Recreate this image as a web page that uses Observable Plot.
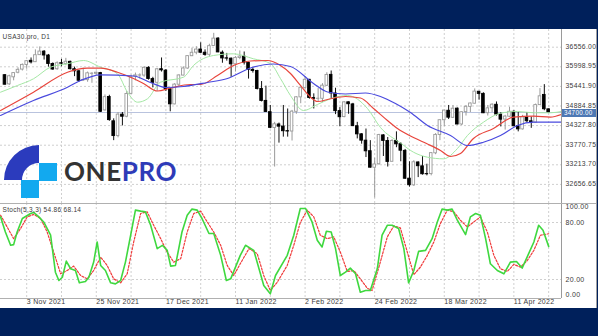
<!DOCTYPE html>
<html><head><meta charset="utf-8">
<script src="https://cdn.jsdelivr.net/npm/d3@7"></script>
<script src="https://cdn.jsdelivr.net/npm/@observablehq/plot@0.6"></script>
<style>
html,body{margin:0;padding:0;background:#00205b;width:598px;height:336px;overflow:hidden;font-family:"Liberation Sans",Arial,sans-serif;}
#panel{position:absolute;left:0;top:29px;width:597px;height:279px;background:#fff;}
#price,#stoch{position:absolute;left:0;}
#price{top:0;} #stoch{top:174px;}
#sep{position:absolute;left:0;top:174px;width:597px;height:1px;background:#b0b0b0;}
#redge{position:absolute;left:596px;top:0;width:1px;height:279px;background:#a0a0a0;}
#panel svg text{letter-spacing:0.3px;}
#tag{position:absolute;left:562px;width:34px;height:8px;background:#4d78b4;color:#fff;font:6.3px "Liberation Sans",Arial,sans-serif;letter-spacing:0.3px;line-height:8px;padding-left:2px;box-sizing:border-box;white-space:nowrap;}
#logo{position:absolute;left:0;top:140px;}
</style></head>
<body>
<div id="panel"><div id="price"></div><div id="stoch"></div><div id="sep"></div><div id="redge"></div><div id="tag"></div></div>
<svg id="logo" width="200" height="60" xmlns="http://www.w3.org/2000/svg">
  <path d="M39,5 A35,35 0 0 0 4,40 L22,40 A17,17 0 0 1 39,23 Z" fill="#2b3bbd"/>
  <rect x="39" y="23" width="18" height="18" fill="#12a9ef"/>
  <rect x="21" y="40" width="18" height="18" fill="#12a9ef"/>
  <text x="64" y="41" font-family="Lato, 'Open Sans', sans-serif" font-weight="700" font-size="26" letter-spacing="0.6"><tspan fill="#333333">ONE</tspan><tspan fill="#2e3bb8">PRO</tspan></text>
</svg>
<script>
const symbolLabel = "USA30.pro, D1";
const stochLabel = "Stoch(5,3,3) 54.86 68.14";
const dates = [
"2021-10-27","2021-10-28","2021-10-29","2021-11-01","2021-11-02","2021-11-03","2021-11-04","2021-11-05","2021-11-08","2021-11-09",
"2021-11-10","2021-11-11","2021-11-12","2021-11-15","2021-11-16","2021-11-17","2021-11-18","2021-11-19","2021-11-22","2021-11-23",
"2021-11-24","2021-11-25","2021-11-26","2021-11-29","2021-11-30","2021-12-01","2021-12-02","2021-12-03","2021-12-06","2021-12-07",
"2021-12-08","2021-12-09","2021-12-10","2021-12-13","2021-12-14","2021-12-15","2021-12-16","2021-12-17","2021-12-20","2021-12-21",
"2021-12-22","2021-12-23","2021-12-27","2021-12-28","2021-12-29","2021-12-30","2021-12-31","2022-01-03","2022-01-04","2022-01-05",
"2022-01-06","2022-01-07","2022-01-10","2022-01-11","2022-01-12","2022-01-13","2022-01-14","2022-01-17","2022-01-18","2022-01-19",
"2022-01-20","2022-01-21","2022-01-24","2022-01-25","2022-01-26","2022-01-27","2022-01-28","2022-01-31","2022-02-01","2022-02-02",
"2022-02-03","2022-02-04","2022-02-07","2022-02-08","2022-02-09","2022-02-10","2022-02-11","2022-02-14","2022-02-15","2022-02-16",
"2022-02-17","2022-02-18","2022-02-21","2022-02-22","2022-02-23","2022-02-24","2022-02-25","2022-02-28","2022-03-01","2022-03-02",
"2022-03-03","2022-03-04","2022-03-07","2022-03-08","2022-03-09","2022-03-10","2022-03-11","2022-03-14","2022-03-15","2022-03-16",
"2022-03-17","2022-03-18","2022-03-21","2022-03-22","2022-03-23","2022-03-24","2022-03-25","2022-03-28","2022-03-29","2022-03-30",
"2022-03-31","2022-04-01","2022-04-04","2022-04-05","2022-04-06","2022-04-07","2022-04-08","2022-04-11","2022-04-12","2022-04-13",
"2022-04-14","2022-04-18","2022-04-19","2022-04-20","2022-04-21","2022-04-22"];
const open = [35760,35500,35700,35830,35920,36050,36170,36130,36330,36430,
36320,36080,35930,36100,36080,36140,35930,35870,35610,35620,
35800,35800,35820,34760,35140,34450,34030,34640,34580,35230,
35720,35750,35750,35970,35650,35545,35930,35890,35360,34930,
35490,35750,35950,36300,36400,36490,36400,36340,36590,36800,
36400,36240,36230,36070,36250,36290,36110,35910,35880,35370,
35030,34710,34260,34360,34300,34170,34160,34720,35130,35400,
35630,35110,35090,35090,35460,35770,35240,34740,34570,34990,
34930,34310,34080,33900,33600,33130,33230,34050,33890,33300,
33890,33800,33610,32820,32630,33280,33170,32950,32950,33540,
34060,34480,34750,34550,34810,34360,34710,34860,34950,35290,
35230,34680,34820,34920,34640,34500,34580,34720,34310,34220,
34560,34450,34410,34910,35200,34790];
const high = [35780,35760,35830,35970,36080,36180,36250,36480,36565,36460,
36350,36110,36140,36210,36240,36160,35990,35900,35960,35850,
35830,35850,35840,35200,35190,34520,34700,34700,35300,35760,
35820,35800,36000,36000,35700,35950,36250,35920,35380,35520,
35770,36000,36310,36530,36570,36680,36480,36640,36950,36830,
36450,36380,36250,36290,36450,36420,36130,35960,35900,35580,
35450,34900,34420,34400,34900,34800,34760,35150,35420,35720,
35640,35230,35390,35520,35830,35880,35390,34840,35010,35000,
34960,34420,34100,34230,33900,33400,34080,34070,33990,33930,
34150,33840,33650,33300,33330,33300,33450,33230,33560,34100,
34490,34760,34900,34900,34830,34720,34900,34970,35370,35300,
35260,34900,34950,35000,34700,34620,34850,34750,34700,34620,
34700,34570,34940,35380,35492,34800];
const low = [35480,35470,35600,35800,35880,35930,36080,36120,36320,36190,
35990,35900,35900,36000,36030,35910,35720,35560,35590,35560,
35530,35760,34700,34740,34450,33900,33980,34320,34550,35220,
35600,35650,35700,35620,35400,35300,35850,35300,34720,34920,
35420,35740,35930,36290,36340,36380,36300,36280,36580,36400,
36100,36160,35700,35850,36200,36050,35650,35820,35340,35000,
34700,34240,33150,33830,34000,34000,33890,34650,34950,35350,
35080,34800,35000,34980,35440,35100,34640,34300,34550,34650,
34300,33950,33800,33420,33120,32272,33200,33450,33150,33290,
33700,33300,32800,32580,32600,32850,32920,32900,32900,33500,
33900,34300,34500,34530,34350,34330,34600,34700,34940,35050,
34670,34600,34700,34600,34290,34200,34560,34300,34150,34200,
34400,34250,34400,34900,34750,34690];
const close = [35490,35730,35820,35913,36053,36158,36124,36328,36432,36320,
36079,35921,36100,36087,36143,35931,35871,35602,35620,35814,
35804,35830,34720,35136,34484,34030,34640,34580,35227,35719,
35754,35754,35971,35651,35545,35928,35898,35365,34932,35493,
35754,35951,36302,36398,36488,36398,36338,36585,36800,36408,
36236,36232,36069,36252,36290,36114,35912,35880,35369,35029,
34715,34265,34365,34298,34168,34160,34725,35132,35405,35630,
35111,35090,35092,35463,35768,35242,34738,34566,34989,34935,
34312,34079,33900,33597,33132,33224,34059,33893,33295,33891,
33795,33615,32818,32633,33286,33174,32945,32945,33545,34063,
34481,34755,34553,34808,34359,34708,34862,34956,35294,35229,
34678,34818,34922,34641,34497,34584,34721,34309,34221,34565,
34452,34412,34911,35160,34793,34700];
const lastPrice = 34700.00;
// Alligator-style moving averages (bar position, price)
const greenBar = [-1.02,2.89,6.56,10.47,14.38,18.06,21.97,25.87,28.17,30.47,32.77,35.76,41.05,43.34,47.94,52.54,57.14,61.05,63.34,65.64,68.63,71.85,74.84,78.75,83.34,86.33,90.93,93.92,97.14,100.82,104.03,106.33,110.01,113.92,117.83,121.51,125.41,127.94];
const greenPx = [35277,35468,35658,35988,36084,36178,35988,35800,35277,34993,35090,35561,35703,36036,36320,36368,36226,36093,35666,35183,34757,34928,35090,35183,34814,34274,33833,33572,33430,33384,33677,34047,34424,34680,34729,34692,34692,34729];
const redBar = [-1.02,6.56,14.38,18.98,21.97,25.87,29.55,31.85,35.07,38.06,42.66,44.95,48.86,52.54,56.45,60.36,63.34,65.64,67.94,70.24,71.85,74.84,78.29,81.74,84.74,87.94,90.24,93.92,97.14,100.13,102.43,104.72,107.71,112.31,116.91,121.51,125.41,127.94];
const redPx = [34757,35277,35845,35959,35959,35845,35666,35524,35311,35396,35496,35496,35752,36036,36164,36178,36036,35809,35468,35135,35013,35090,35155,35112,34814,34473,34245,33990,33805,33620,33450,33535,33961,34245,34567,34595,34567,34643];
const blueBar = [-1.02,6.56,14.38,17.37,21.97,29.55,33.46,36.91,41.04,46.56,51.16,56.45,61.74,65.64,70.93,74.15,78.29,82.89,86.33,89.78,93.23,97.14,102.43,106.34,110.0,113.92,117.83,121.51,127.94];
const bluePx = [34615,35041,35419,35610,35772,35738,35553,35411,35439,35553,35666,35965,36079,36007,35524,35283,35226,35254,35155,34956,34700,34331,34047,33762,33856,34047,34331,34424,34424];
// Stochastic %K and %D (bar position, value)
const kBar = [-1.0,0.1,1.3,2.0,2.8,4.0,5.9,6.6,7.8,8.9,10.5,11.6,12.4,13.2,14.1,15.1,16.2,17.1,18.5,19.3,20.4,21.2,22.0,23.1,24.3,25.4,26.6,27.7,28.9,30.0,31.2,32.3,33.5,35.0,36.2,37.3,38.1,39.2,40.7,41.9,43.0,44.2,45.3,46.9,48.0,49.6,50.9,51.9,54.1,55.3,57.2,59.5,61.0,62.2,64.9,66.4,67.9,69.1,70.6,71.8,72.9,73.9,75.0,76.0,77.1,78.3,79.4,80.6,81.7,82.9,84.0,85.6,86.7,87.9,89.0,90.5,91.7,92.8,94.0,95.1,96.7,98.2,99.4,100.5,101.7,102.8,104.0,105.9,107.0,108.2,109.3,110.5,111.6,113.2,114.7,116.2,117.6,118.9,120.4,121.6,122.7,123.7,125.0];
const kVal = [85.9,70,56,56.7,70,84.2,89.5,90.6,85.9,80.6,66.6,27.7,18.9,22.4,39.4,31.3,29.5,16.5,17.9,22.4,38.3,59.5,34.8,29.5,16.5,15.4,18.9,38.3,66.6,93,92,91.2,77.1,52.5,56,50.7,34.1,34.8,70,87.7,94.1,93,84.2,68.4,68.4,45.4,18.9,20.7,45.4,56,50.7,13.7,4.9,24.2,45.4,66.6,94.8,94.8,80.6,61.3,54.2,70.8,70,52.5,24.2,27.7,32,26,6.6,8.4,8.4,31.3,66.6,77.1,77.1,73.7,52.5,16.5,29.5,49.6,50.7,63,80.6,94.1,93,94.1,82.4,67.3,85.9,89.5,87.7,63,36.6,29.5,26,38.3,39,32,47.2,59.5,77.1,71.9,54.86];
const dBar = [-1.0,0.5,2.0,3.6,5.1,6.6,8.2,9.7,11.2,12.8,14.3,15.8,17.4,18.9,20.4,22.0,23.5,25.0,26.6,28.1,29.6,31.2,32.7,34.2,35.8,37.3,38.8,40.4,41.9,43.4,45.0,46.5,48.0,49.6,51.1,52.6,54.1,56.1,58.0,59.5,61.0,62.6,64.9,66.4,67.9,69.5,71.0,72.5,74.1,75.6,77.1,78.7,80.2,81.7,83.3,84.4,86.3,87.9,89.4,90.9,92.5,94.0,95.5,97.1,98.6,100.1,101.7,103.2,104.7,106.3,107.8,109.3,110.9,112.4,113.9,115.5,117.0,118.5,120.1,121.6,123.1,125.0];
const dVal = [87.7,75.3,63,73.7,85.9,88.5,84.2,70,48.9,26,29.5,34.1,24.2,20.7,29.5,43.6,34.8,20.7,16.5,26,59.5,89.5,91.2,77.1,63,48.9,38.3,41.9,70,89.5,92,80.6,70,56,34.8,24.2,36.6,52.5,47.2,24.2,8.4,17.1,34.8,56,80,93,85.9,66.6,63,64.8,48.9,28.5,29.5,20.7,10.8,8.4,38.3,64.8,76.4,74.3,48.9,25,33,45.4,59.5,78.9,93,91.2,82.4,75.3,80.6,85.9,70,45.4,31.3,28.5,35.9,33,40.1,50.7,66.6,68.14];
const priceTicks = [36556.00, 35998.95, 35441.90, 34884.85, 34327.80, 33770.75, 33213.70, 32656.65];
const stochLevels = [80, 20];
const tickDates = ["2021-11-03","2021-11-25","2021-12-17","2022-01-11","2022-02-02","2022-02-24","2022-03-18","2022-04-11"];
const tickText = ["3 Nov 2021","25 Nov 2021","17 Dec 2021","11 Jan 2022","2 Feb 2022","24 Feb 2022","18 Mar 2022","11 Apr 2022"];
const gridBars = [5,13,21,29,37,45,53,61,69,77,85,93,101,109,117,125];

const xDomain = [-1.023, 127.95];
const bars = dates.map((d, i) => ({i, d, o: open[i], h: high[i], l: low[i], c: close[i]}));
const bulls = bars.filter(b => b.c >= b.o);
const bears = bars.filter(b => b.c < b.o);
const line = (xs, ys) => xs.map((x, k) => ({x, y: ys[k]}));
const gridColor = "#cfcfcf";
const textColor = "#3a3a3a";
const font = "Liberation Sans, Arial, sans-serif";

const price = Plot.plot({
  width: 597, height: 174, marginLeft: 0, marginRight: 36, marginTop: 0, marginBottom: 0,
  x: {domain: xDomain, axis: null},
  y: {domain: [32114, 37059], axis: null},
  style: {background: "transparent", fontFamily: font, overflow: "visible"},
  marks: [
    Plot.ruleY(priceTicks, {stroke: gridColor, strokeDasharray: "2,2"}),
    Plot.ruleX(gridBars, {stroke: gridColor, strokeDasharray: "2,2"}),
    Plot.ruleY([lastPrice], {stroke: "#b9c3de"}),
    Plot.ruleX(bulls, {x: "i", y1: "l", y2: "h", stroke: "#9a9a9a"}),
    Plot.ruleX(bears, {x: "i", y1: "l", y2: "h", stroke: "#111"}),
    Plot.rect(bulls, {x1: d => d.i - 0.3, x2: d => d.i + 0.3, y1: "o", y2: "c", fill: "#fff", stroke: "#9a9a9a", strokeWidth: 0.9}),
    Plot.rect(bears, {x1: d => d.i - 0.3, x2: d => d.i + 0.3, y1: "o", y2: "c", fill: "#000", stroke: "#000", strokeWidth: 0.9}),
    Plot.line(line(greenBar, greenPx), {x: "x", y: "y", stroke: "#a5e8a5", strokeWidth: 1, curve: "monotone-x", clip: true}),
    Plot.line(line(redBar, redPx), {x: "x", y: "y", stroke: "#e8453c", strokeWidth: 1.2, curve: "monotone-x", clip: true}),
    Plot.line(line(blueBar, bluePx), {x: "x", y: "y", stroke: "#4a4ade", strokeWidth: 1.2, curve: "monotone-x", clip: true}),
    Plot.ruleX([xDomain[1]], {stroke: "#9a9a9a"}),
    Plot.text(priceTicks, {y: d => d, text: d => d.toFixed(2), frameAnchor: "right", textAnchor: "start", dx: 4, dy: -0.6, fill: textColor, fontSize: 6.8}),
    Plot.text([symbolLabel], {frameAnchor: "top-left", textAnchor: "start", dx: 2, dy: 5, fill: textColor, fontSize: 6.5})
  ]
});
document.getElementById("price").appendChild(price);

// current-price tag, placed through the price chart's own y scale
const yScale = price.scale("y");
const yTag = yScale.apply ? yScale.apply(lastPrice) : d3.scaleLinear(yScale.domain, yScale.range)(lastPrice);
const tag = document.getElementById("tag");
tag.style.top = (yTag - 3.5) + "px";
tag.textContent = lastPrice.toFixed(2);

const tickBars = tickDates.map(d => dates.indexOf(d));
const stoch = Plot.plot({
  width: 597, height: 105, marginLeft: 0, marginRight: 36, marginTop: 0, marginBottom: 10,
  x: {domain: xDomain, axis: null},
  y: {domain: [0, 100], axis: null},
  style: {background: "transparent", fontFamily: font, overflow: "visible"},
  marks: [
    Plot.ruleY(stochLevels, {stroke: gridColor, strokeDasharray: "2,2"}),
    Plot.ruleX(gridBars, {stroke: gridColor, strokeDasharray: "2,2"}),
    Plot.ruleY([0], {stroke: "#b0b0b0"}),
    Plot.line(line(dBar, dVal), {x: "x", y: "y", stroke: "#f03a3a", strokeWidth: 1.2, strokeDasharray: "2,1.6", clip: true}),
    Plot.line(line(kBar, kVal), {x: "x", y: "y", stroke: "#3fd83f", strokeWidth: 1.6, clip: true}),
    Plot.ruleX([xDomain[1]], {stroke: "#9a9a9a"}),
    Plot.text(stochLevels, {y: d => d, text: d => d.toFixed(2), frameAnchor: "right", textAnchor: "start", dx: 4, fill: textColor, fontSize: 7}),
    Plot.text([100], {y: d => d, text: d => d.toFixed(2), frameAnchor: "right", textAnchor: "start", dx: 4, dy: 3.5, fill: textColor, fontSize: 7}),
    Plot.text([0], {y: d => d, text: d => d.toFixed(2), frameAnchor: "right", textAnchor: "start", dx: 4, dy: -3.5, fill: textColor, fontSize: 7}),
    Plot.text(tickText, {x: (d, k) => tickBars[k], text: d => d, frameAnchor: "bottom", textAnchor: "start", dy: 5, fill: textColor, fontSize: 7}),
    Plot.text([stochLabel], {frameAnchor: "top-left", textAnchor: "start", dx: 2, dy: 3.5, fill: textColor, fontSize: 6.5})
  ]
});
document.getElementById("stoch").appendChild(stoch);
</script>
</body></html>
